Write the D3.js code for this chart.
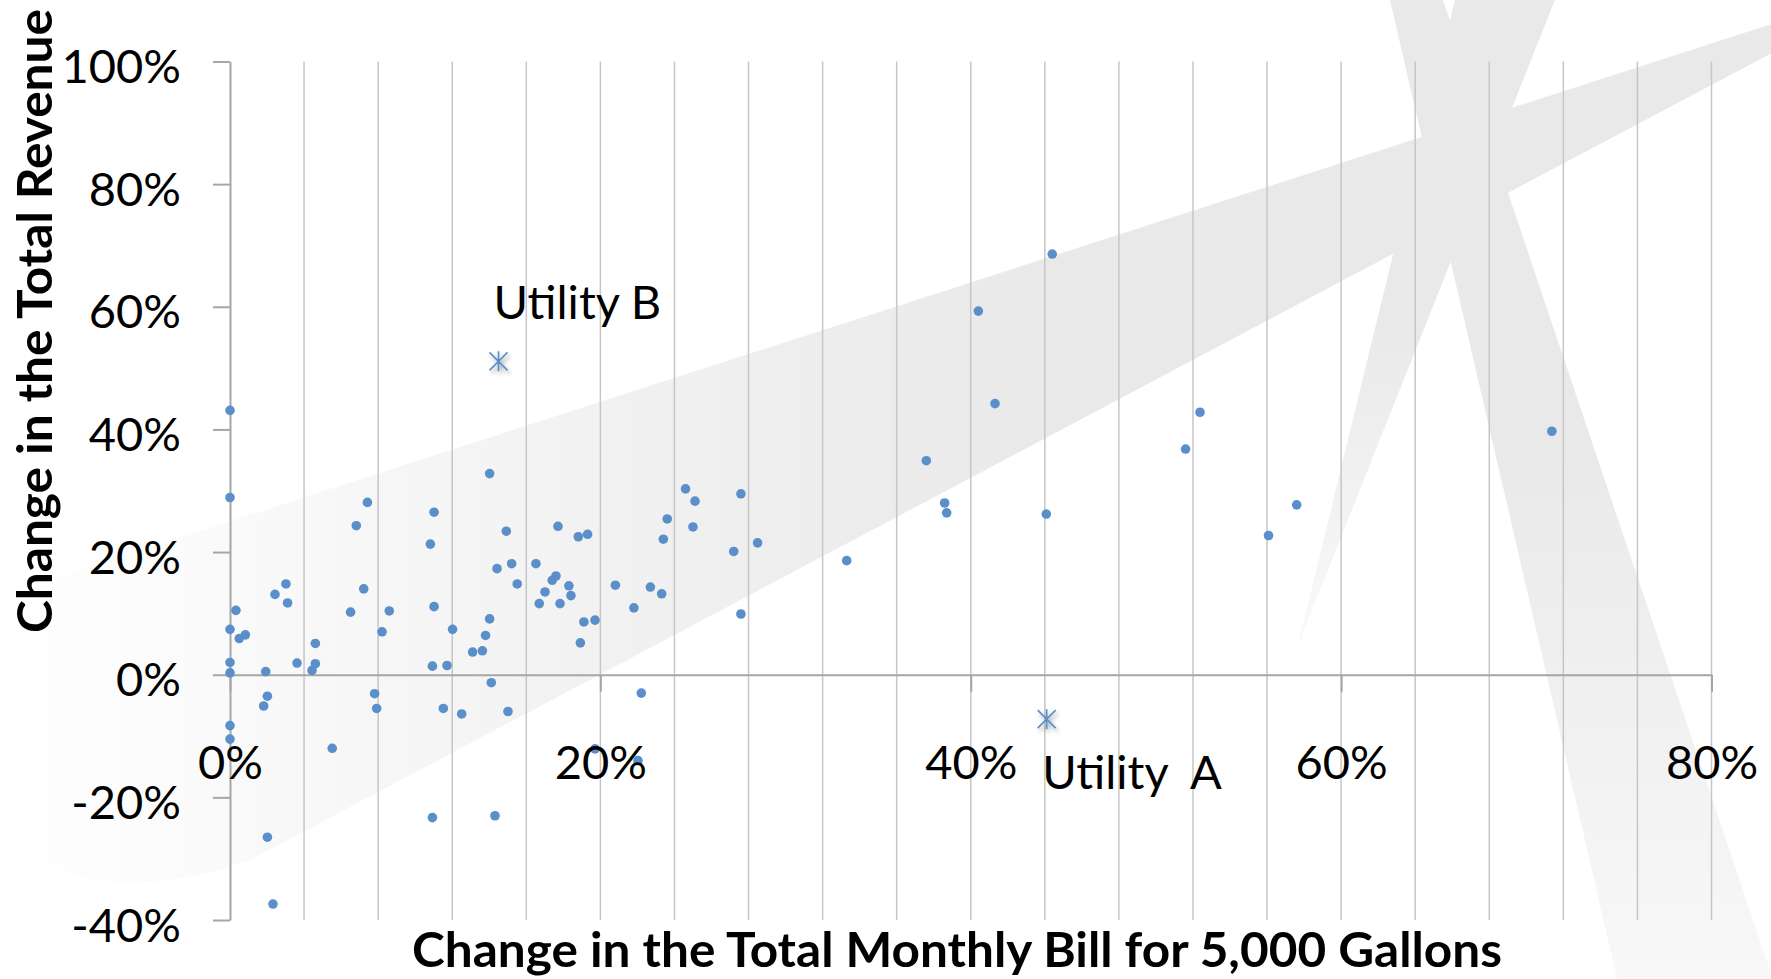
<!DOCTYPE html>
<html>
<head>
<meta charset="utf-8">
<script src="https://cdn.jsdelivr.net/npm/d3@7"></script>
<style>
  body { margin: 0; background: #fff; }
  svg { display: block; }
</style>
</head>
<body>
<svg id="chart"></svg>
<script>
// one entry per utility: change in the monthly bill for 5,000 gallons (%)
var billChange = [
    0, 0, 0.32, 0, 0.5, 0.83, 0, 0, 1.93, 2.43,
    3.02, 3.11, 3.62, 4.43, 4.61, 4.61, 6.51, 6.82, 7.22, 7.42,
    8.6, 8.21, 10.82, 11.02, 11.02, 10.93, 11.72, 12.02, 13.1, 13.63,
    13.8, 14.02, 14.02, 14.42, 14.92, 15.21, 15.51, 16.52, 16.7, 17.01,
    17.4, 17.6, 17.71, 17.82, 18.3, 18.41, 18.81, 19.31, 19.11, 19.71,
    18.92, 20.81, 21.81, 22.7, 23.31, 23.4, 23.61,
    14.11, 2.02, 1.82, 7.81, 7.92, 11.52, 12.51, 15.01, 22.21, 0,
    0, 5.52, 19.71, 22.03, 10.93, 14.31, 2.02, 2.32,
    24.6, 25.11, 25.0, 27.59, 27.2, 28.49, 27.59, 33.3, 37.6, 38.59,
    38.7, 41.31, 44.08,
    44.4, 40.41, 52.38, 51.6, 57.6, 56.08, 71.38
];
// matching change in the total revenue (%)
var revenueChange = [
    43.1, 28.9, 10.5, 7.4, 5.9, 6.5, 2.0, 0.3, 0.5, 13.1,
    14.8, 11.7, 1.9, 0.7, 1.8, 5.1, 10.2, 24.3, 14.0, 28.1,
    10.4, 7.0, 21.3, 26.5, 11.1, 1.4, 1.5, 7.4, 3.7, 3.9,
    6.4, 9.1, 32.8, 17.3, 23.4, 18.1, 14.8, 18.1, 11.6, 13.5,
    15.4, 16.1, 24.2, 11.6, 14.5, 12.9, 22.5, 22.9, 8.6, 8.9,
    5.2, 14.6, 10.9, 14.3, 13.2, 22.1, 25.4,
    -1.3, -3.5, -5.1, -3.1, -5.5, -5.5, -6.4, -6.0, -3.0, -8.3,
    -10.5, -12.0, -12.1, -14.0, -23.3, -23.0, -26.5, -37.4,
    30.3, 28.3, 24.1, 29.5, 20.1, 21.5, 9.9, 18.6, 34.9, 28.0,
    26.4, 44.2, 26.2,
    68.6, 59.3, 42.8, 36.8, 27.7, 22.7, 39.7
];

// the two utilities called out with a star marker
var highlightNames = ["Utility B", "Utility  A"];
var highlightBill = [14.5, 44.1];
var highlightRevenue = [51.1, -7.25];

var xTicks = [0, 20, 40, 60, 80];
var yTicks = [-40, -20, 0, 20, 40, 60, 80, 100];
var gridStep = 4;

var xTitle = "Change in the Total Monthly Bill for 5,000 Gallons";
var yTitle = "Change in the Total Revenue";

function main(){
    var svgWidth = 1771, svgHeight = 979;
    var font = "Lato, 'Open Sans', sans-serif";
    var dotColor = "#5a8fca";

    var svg = d3.select("#chart")
        .attr("width", svgWidth)
        .attr("height", svgHeight);

    var x = d3.scaleLinear().domain([0, 80]).range([230, 1711.5]);
    var y = d3.scaleLinear().domain([-40, 100]).range([920, 61.5]);

    var defs = svg.append("defs");

    // grey swoosh fades out to the left
    var bandGrad = defs.append("linearGradient")
        .attr("id", "bandGrad")
        .attr("gradientUnits", "userSpaceOnUse")
        .attr("x1", 0).attr("y1", 0).attr("x2", 1050).attr("y2", 0);
    bandGrad.append("stop").attr("offset", 0).attr("stop-color", "#ffffff");
    bandGrad.append("stop").attr("offset", 0.25).attr("stop-color", "#f9f9f9");
    bandGrad.append("stop").attr("offset", 0.6).attr("stop-color", "#f1f1f1");
    bandGrad.append("stop").attr("offset", 1).attr("stop-color", "#e9e9e9");

    var strip1Grad = defs.append("linearGradient")
        .attr("id", "strip1Grad")
        .attr("gradientUnits", "userSpaceOnUse")
        .attr("x1", 0).attr("y1", 0).attr("x2", 0).attr("y2", 979);
    strip1Grad.append("stop").attr("offset", 0.45).attr("stop-color", "#e9e9e9");
    strip1Grad.append("stop").attr("offset", 1).attr("stop-color", "#f8f8f8");

    var strip2Grad = defs.append("linearGradient")
        .attr("id", "strip2Grad")
        .attr("gradientUnits", "userSpaceOnUse")
        .attr("x1", 0).attr("y1", 0).attr("x2", 0).attr("y2", 645);
    strip2Grad.append("stop").attr("offset", 0.5).attr("stop-color", "#e9e9e9");
    strip2Grad.append("stop").attr("offset", 1).attr("stop-color", "#f9f9f9");

    var shadow = defs.append("filter")
        .attr("id", "starShadow")
        .attr("x", "-50%").attr("y", "-50%")
        .attr("width", "200%").attr("height", "200%");
    shadow.append("feDropShadow")
        .attr("dx", 2).attr("dy", 3)
        .attr("stdDeviation", 2)
        .attr("flood-color", "#000")
        .attr("flood-opacity", 0.35);

    // watermark behind the plot
    var mark = svg.append("g").attr("class", "watermark");
    mark.append("path")
        .attr("d", "M1800,15 L60,576 Q-30,700 40,860 Q120,905 250,860 L1800,38 Z")
        .attr("fill", "url(#bandGrad)");
    mark.append("path")
        .attr("d", "M1390,0 L1443,0 L1780,1000 L1622,1000 Z")
        .attr("fill", "url(#strip1Grad)");
    mark.append("path")
        .attr("d", "M1455,0 L1555,0 L1298,645 Z")
        .attr("fill", "url(#strip2Grad)");

    // vertical gridlines
    svg.append("g")
        .selectAll("line")
        .data(d3.range(gridStep, 80 + 0.01, gridStep))
        .enter()
        .append("line")
        .attr("x1", function(d){ return x(d); })
        .attr("x2", function(d){ return x(d); })
        .attr("y1", y(100))
        .attr("y2", y(-40))
        .attr("stroke", "#c6c6c6")
        .attr("stroke-width", 1.5);

    // axis lines and tick marks
    var yAxisLines = svg.append("g")
        .attr("transform", "translate(" + x(0) + ",0)")
        .call(d3.axisLeft(y).tickValues(yTicks).tickSize(17).tickSizeOuter(0).tickFormat(""));
    var xAxisLines = svg.append("g")
        .attr("transform", "translate(0," + y(0) + ")")
        .call(d3.axisBottom(x).tickValues(xTicks).tickSize(17).tickSizeOuter(0).tickFormat(""));
    [yAxisLines, xAxisLines].forEach(function(g){
        g.selectAll("path, line")
            .attr("stroke", "#a6a6a6")
            .attr("stroke-width", 2);
    });

    // utilities
    svg.append("g")
        .selectAll("circle")
        .data(billChange)
        .enter()
        .append("circle")
        .attr("cx", function(d){ return x(d); })
        .attr("cy", function(d, i){ return y(revenueChange[i]); })
        .attr("r", 4.8)
        .attr("fill", dotColor);

    // highlighted utilities (star markers)
    var h = 10;
    svg.append("g")
        .selectAll("path")
        .data(highlightBill)
        .enter()
        .append("path")
        .attr("transform", function(d, i){
            return "translate(" + x(d) + "," + y(highlightRevenue[i]) + ")";
        })
        .attr("d", "M0," + (-h) + "V" + h +
                   "M" + (-h * 0.9) + "," + (-h * 0.9) + "L" + (h * 0.9) + "," + (h * 0.9) +
                   "M" + (-h * 0.9) + "," + (h * 0.9) + "L" + (h * 0.9) + "," + (-h * 0.9))
        .attr("stroke", dotColor)
        .attr("stroke-width", 1.7)
        .attr("fill", "none")
        .attr("filter", "url(#starShadow)");

    // tick labels (drawn over the points)
    var yLabels = svg.append("g")
        .attr("transform", "translate(" + x(0) + ",0)")
        .call(d3.axisLeft(y).tickValues(yTicks).tickSize(17).tickPadding(32)
            .tickFormat(function(d){ return d + "%"; }));
    var xLabels = svg.append("g")
        .attr("transform", "translate(0," + y(0) + ")")
        .call(d3.axisBottom(x).tickValues(xTicks).tickSize(17).tickPadding(54)
            .tickFormat(function(d){ return d + "%"; }));
    [yLabels, xLabels].forEach(function(g){
        g.select(".domain").remove();
        g.selectAll("line").remove();
        g.attr("font-family", font).attr("font-size", 47);
        g.selectAll("text").attr("fill", "#000");
    });
    yLabels.selectAll("text").attr("dy", "0.45em");

    // call-out labels
    var labelOffsets = [[-5, -42], [-4.5, 69.5]];
    svg.append("g")
        .selectAll("text")
        .data(highlightNames)
        .enter()
        .append("text")
        .attr("x", function(d, i){ return x(highlightBill[i]) + labelOffsets[i][0]; })
        .attr("y", function(d, i){ return y(highlightRevenue[i]) + labelOffsets[i][1]; })
        .attr("font-family", font)
        .attr("font-size", 47)
        .style("white-space", "pre")
        .text(function(d){ return d; });

    // axis titles
    svg.append("text")
        .attr("x", 957)
        .attr("y", 967)
        .attr("text-anchor", "middle")
        .attr("font-family", font)
        .attr("font-weight", "bold")
        .attr("font-size", 47)
        .attr("textLength", 1090)
        .attr("lengthAdjust", "spacingAndGlyphs")
        .text(xTitle);

    svg.append("text")
        .attr("transform", "translate(52,321) rotate(-90)")
        .attr("text-anchor", "middle")
        .attr("font-family", font)
        .attr("font-weight", "bold")
        .attr("font-size", 47)
        .attr("textLength", 624)
        .attr("lengthAdjust", "spacingAndGlyphs")
        .text(yTitle);
}
main();
</script>
</body>
</html>
